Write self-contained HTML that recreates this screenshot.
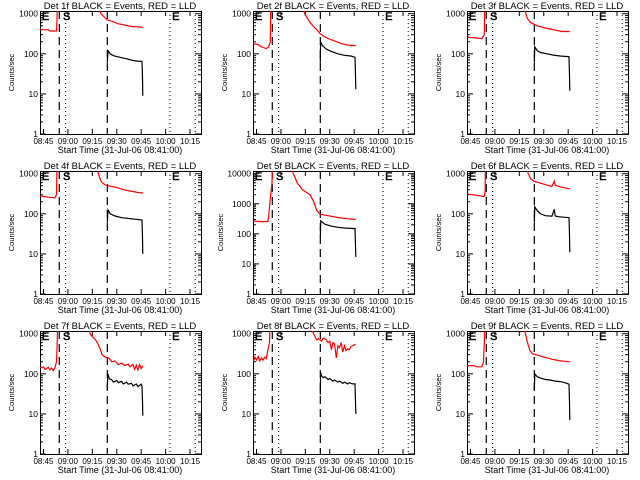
<!DOCTYPE html>
<html><head><meta charset="utf-8"><style>
html,body{margin:0;padding:0;background:#fff;}
svg{display:block;}
text{font-family:"Liberation Sans",sans-serif;fill:#000;}
</style></head><body>
<svg id="chart" width="640" height="480" viewBox="0 0 640 480"></svg>
<script>
// time in minutes after 08:45; values in counts/sec
const detNames = ["1f","2f","3f","4f","5f","6f","7f","8f","9f"];
const yMaxes = [1170,1170,1170,1170,12300,1170,1170,1170,1170];
const xTickLabels = ["08:45","09:00","09:15","09:30","09:45","10:00","10:15"];
const xTickMins = [0,15,30,45,60,75,90];
const eventLines = {dashed:[9.7,39.2], dotted:[13.6,77.7,93.2]};
const eventLetters = [["E",-1],["S",12],["E",79]];

const red1T=[-2,3,4,8,8.3,9.3,20,35.3,39,42,46,50,54,58,61];
const red1V=[400,400,370,370,700,1e5,1e5,1000,700,650,560,520,480,470,460];
const blk1T=[39.2,39.6,41,43,47,51,55,58,60.5,60.8,61];
const blk1V=[60,120,100,90,82,75,68,66,65,25,9];

const red2T=[-2,1,3,5,6,7.5,8.5,9.3,20,29.6,31,33,35,37,39,41,44,48,52,56,61];
const red2V=[180,170,150,140,135,150,200,1e5,1e5,1000,800,600,480,400,320,280,240,210,180,165,160];
const blk2T=[39.2,39.4,40.5,43,46,50,54,58,60.5,60.8,61];
const blk2V=[60,200,160,130,115,100,92,88,82,30,13];

const red3T=[-2,3,7,8.5,9.3,20,34,35,37,41,46,52,56,61];
const red3V=[260,250,240,300,1e5,1e5,1000,750,600,500,440,390,360,360];
const blk3T=[39.2,39.5,41,43,47,51,55,58,60.5,60.8,61];
const blk3V=[60,150,120,108,100,93,88,86,85,30,12];

const red4T=[-2,3,7,8,9,20,33.7,35,36,38,40,45,50,55,58,61];
const red4V=[280,260,250,300,1e5,1e5,1000,700,600,520,500,450,390,360,340,330];
const blk4T=[39.2,39.6,41,44,48,53,57,60.5,60.8,61];
const blk4V=[60,125,100,88,80,76,73,70,25,10];

const red5T=[-2,3,7,7.5,8.5,9.5,10.5,20,22,25,28,30,33,35,37,39,44,50,56,61];
const red5V=[265,255,260,400,1500,5000,1e6,1e6,12300,5000,3000,2500,2000,1200,600,450,400,350,320,300];
const blk5T=[39.2,39.5,42,46,50,55,60.5,60.8,61];
const blk5V=[80,270,210,180,165,155,150,40,17];

const red6T=[-2,4,8,8.6,9,9.5,20,35.5,37,39,43,47,50,51.5,52,53,56,61];
const red6V=[310,290,270,280,400,1e5,1e5,1000,750,650,580,520,480,650,520,500,460,420];
const blk6T=[39.2,39.5,41,43,46,50,51.5,52,54,58,60.5,60.8,61];
const blk6V=[60,150,120,100,90,87,130,88,85,82,80,30,11];

const red7T=[-2,0,1,3,4,5,6,7,8,8.5,9.3,20,28.6,30,32,33.5,35,36,38,40,42,44,46,48,50,52,53,55,56,57,58,59,60,61];
const red7V=[140,150,130,145,125,140,120,140,200,700,1e5,1e5,1000,850,700,550,400,300,260,250,200,210,170,185,160,175,150,170,130,165,125,170,135,160];
const blk7T=[39.2,39.5,40.5,42,43,45,46,48,49,51,52,54,55,57,58,60,60.5,60.8,61];
const blk7V=[40,100,75,70,62,68,60,65,56,62,55,58,50,56,48,55,50,20,9];

const red8T=[-2,-1,0,1,2,3,4,5,6,7,8,9,20,35,37,38,40,41,43,44,45,46,47,48,49,50,51,52,53,54,55,56,57,58,59,61];
const red8V=[200,260,220,270,210,250,220,260,240,400,600,1e5,1e5,1000,700,750,650,780,700,600,650,400,600,550,250,500,450,600,350,500,380,420,400,480,500,550];
const blk8T=[39.2,39.4,40,41,42,44,45,47,48,50,51,53,54,56,57,59,60.5,60.8,61];
const blk8V=[30,110,90,80,85,72,76,66,70,62,66,58,62,56,60,56,56,20,10];

const red9T=[-2,2,4,7,8,8.6,9.2,20,33.7,35,36.5,38,40,43,45,48,50,53,55,58,61];
const red9V=[160,160,150,150,200,800,1e5,1e5,1000,600,380,320,300,280,260,245,230,220,210,205,200];
const blk9T=[39.2,39.5,41,43,46,49,52,55,58,60.5,60.8,61];
const blk9V=[40,100,85,78,72,70,66,64,60,55,20,7];

const redTs=[red1T,red2T,red3T,red4T,red5T,red6T,red7T,red8T,red9T];
const redVs=[red1V,red2V,red3V,red4V,red5V,red6V,red7V,red8V,red9V];
const blkTs=[blk1T,blk2T,blk3T,blk4T,blk5T,blk6T,blk7T,blk8T,blk9T];
const blkVs=[blk1V,blk2V,blk3V,blk4V,blk5V,blk6V,blk7V,blk8V,blk9V];

const NS="http://www.w3.org/2000/svg";
const svg=document.getElementById('chart');
function mk(tag,attrs,parent){const e=document.createElementNS(NS,tag);for(const k in attrs)e.setAttribute(k,attrs[k]);(parent||svg).appendChild(e);return e;}
const BL=40,BR=201,BT=11,BB=134,T0X=43.5,PXM=1.628;
for(let p=0;p<9;p++){
  const col=p%3,row=Math.floor(p/3);
  const ox=col*213+(col===2?1:0), oy=row*160;
  const g=mk('g',{transform:`translate(${ox},${oy})`});
  
  
  const ymax=yMaxes[p];
  const lmax=Math.log10(ymax);
  const xs=t=>T0X+t*PXM;
  const ys=v=>BB-(Math.log10(Math.max(v,1e-3)))/lmax*(BB-BT);
  const cid='clip'+p;
  const cp=mk('clipPath',{id:cid},g);mk('rect',{x:BL,y:BT,width:BR-BL,height:BB-BT},cp);
  const tt=mk('text',{x:120,y:9,'text-anchor':'middle','font-size':9.5},g);
  tt.textContent='Det '+detNames[p]+' BLACK = Events, RED = LLD';
  
  
  const box=mk('rect',{x:BL+0.5,y:BT+0.5,width:BR-BL,height:BB-BT,fill:'none',stroke:'#000','stroke-width':1},g);
  
  
  const dec=Math.floor(lmax);
  for(let d=0;d<=dec;d++){
    const y=ys(Math.pow(10,d));
    mk('line',{x1:BL,x2:BL+6,y1:y,y2:y,stroke:'#000'},g);
    mk('line',{x1:BR-6,x2:BR,y1:y,y2:y,stroke:'#000'},g);
    const lt=mk('text',{x:BL-2,y:y+3,'text-anchor':'end','font-size':8.5},g);
    lt.textContent=String(Math.pow(10,d));
    
    
    for(let m=2;m<10;m++){const v=m*Math.pow(10,d);if(v>ymax)break;const ym=ys(v);
      mk('line',{x1:BL,x2:BL+3,y1:ym,y2:ym,stroke:'#000'},g);
      mk('line',{x1:BR-3,x2:BR,y1:ym,y2:ym,stroke:'#000'},g);}
  }
  xTickMins.forEach((t,i)=>{const x=xs(t);
    mk('line',{x1:x,x2:x,y1:BB,y2:BB-5,stroke:'#000'},g);
    mk('line',{x1:x,x2:x,y1:BT,y2:BT+5,stroke:'#000'},g);
    const xl=mk('text',{x:x,y:144,'text-anchor':'middle','font-size':8},g);
    xl.textContent=xTickLabels[i];
    
    
  });
  const xt=mk('text',{x:120,y:153,'text-anchor':'middle','font-size':9},g);
  xt.textContent='Start Time (31-Jul-06 08:41:00)';
  
  
  const yt=mk('text',{x:0,y:0,'text-anchor':'middle','font-size':7.5,transform:`translate(${p===4?10:14},${(BT+BB)/2}) rotate(-90)`},g);
  yt.textContent='Counts/sec';
  
  
  eventLines.dashed.forEach(t=>{const l=mk('line',{x1:xs(t),x2:xs(t),y1:BT,y2:BB,stroke:'#000','stroke-width':1.2,'stroke-dasharray':'8,5'},g);
    
    });
  eventLines.dotted.forEach(t=>{const l=mk('line',{x1:xs(t),x2:xs(t),y1:BT,y2:BB,stroke:'#000','stroke-width':1,'stroke-dasharray':'1,3'},g);
    
    });
  eventLetters.forEach(([s,t])=>{const e=mk('text',{x:xs(t),y:20,'font-size':11,fill:'#fff',stroke:'#000','stroke-width':0.5},g);
    e.textContent=s;
    
    });
  const series=[[redTs[p],redVs[p],'#ff0000','red-lld-series'],[blkTs[p],blkVs[p],'#000','black-events-series']];
  series.forEach(([T,V,c,n])=>{
    const pts=T.map((t,i)=>xs(t).toFixed(1)+','+ys(V[i]).toFixed(1)).join(' ');
    const pl=mk('polyline',{points:pts,fill:'none',stroke:c,'stroke-width':1.2,'clip-path':`url(#${cid})`},g);
    
    
  });
}
</script>
</body></html>
